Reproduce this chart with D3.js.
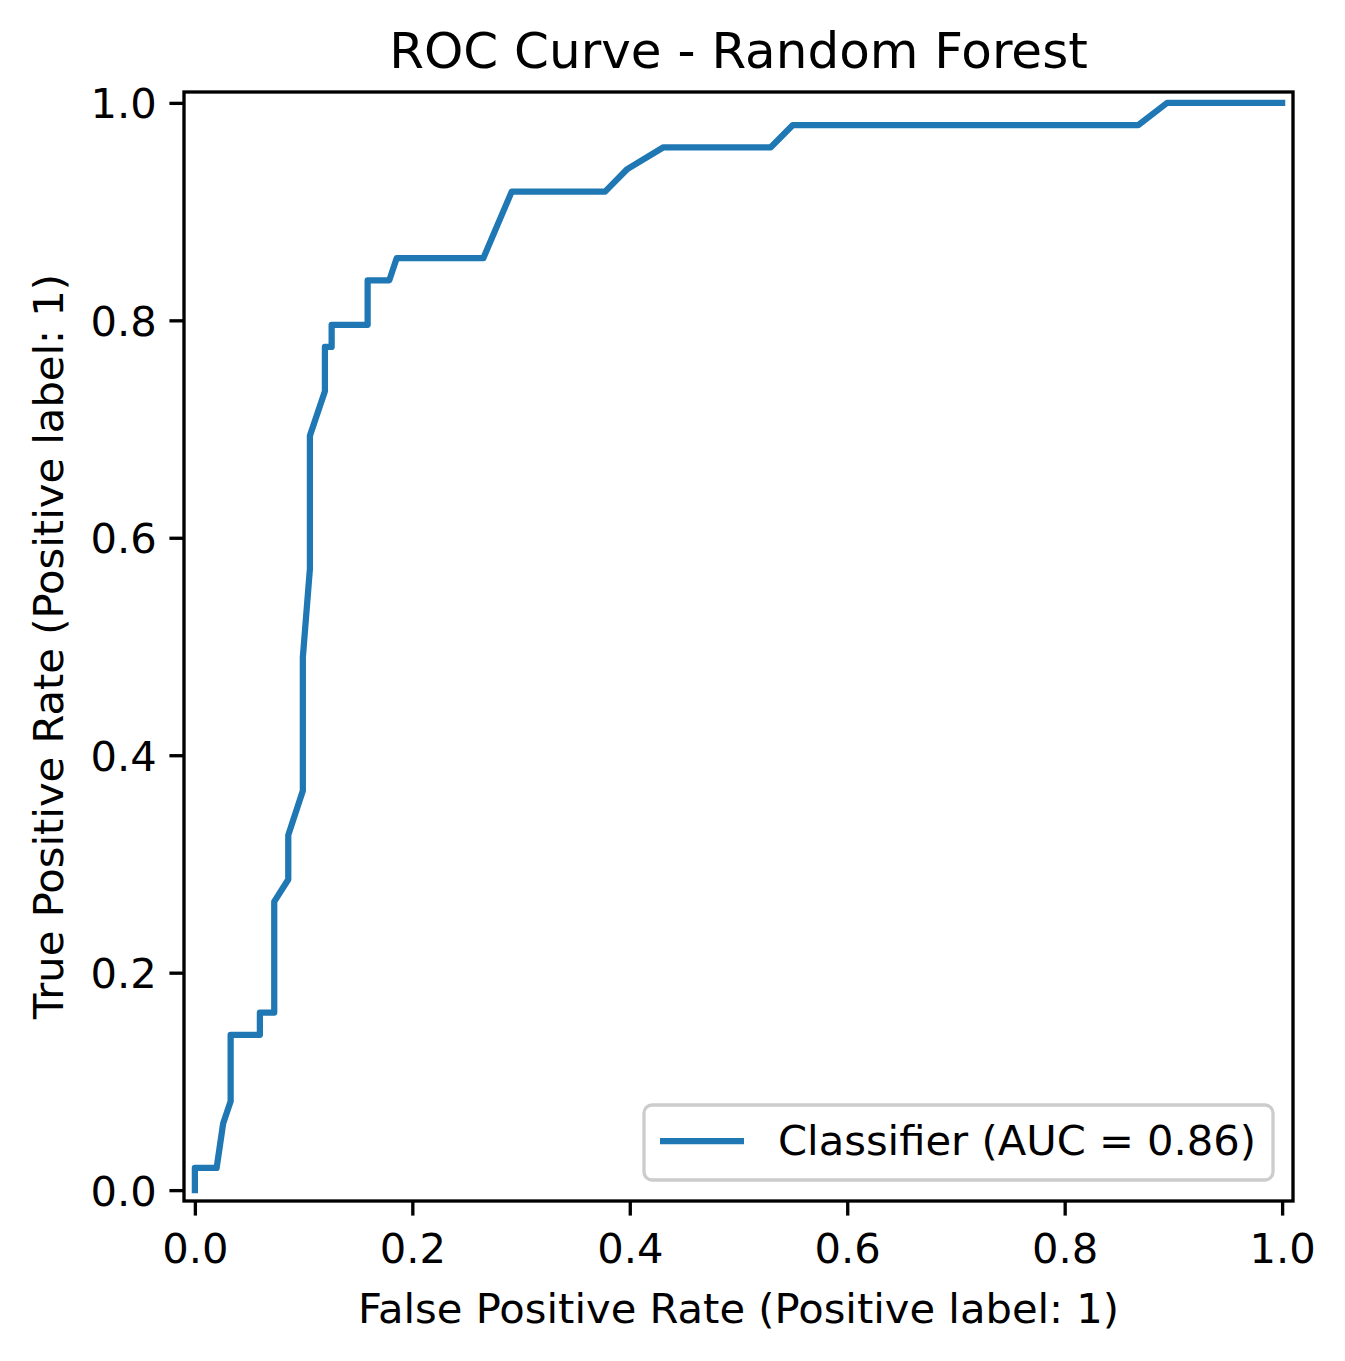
<!DOCTYPE html>
<html>
<head>
    <meta charset="utf-8">
    <title>ROC Curve - Random Forest</title>
    <script src="https://cdn.jsdelivr.net/npm/d3@7/dist/d3.min.js"></script>
    <style type="text/css">
        body {
            margin: 0;
            background: #ffffff;
        }

        svg text {
            font-family: "DejaVu Sans", sans-serif;
            fill: #000000;
        }

        .axis line {
            stroke: #000000;
            stroke-width: 3.33px;
        }

        .axis text {
            font-size: 41.67px;
        }
    </style>
</head>
<body>
    <div id="chart"></div>

    <script type="text/javascript">
        // values
        var fpr = [0, 0, 0.020, 0.026, 0.0329, 0.0329, 0.0598, 0.0598, 0.0730, 0.0730,
            0.0859, 0.0859, 0.0993, 0.0993, 0.1058, 0.1058, 0.1196, 0.1196, 0.1258, 0.1258,
            0.1589, 0.1589, 0.1788, 0.1856, 0.2653, 0.2914, 0.3773, 0.3973, 0.4310, 0.5297,
            0.5500, 0.8678, 0.8942, 1.0];
        var tpr = [0, 1, 1, 3, 4, 7, 7, 8, 8, 13,
            14, 16, 18, 24, 28, 34, 36, 38, 38, 39,
            39, 41, 41, 42, 42, 45, 45, 46, 47, 47,
            48, 48, 49, 49].map(function (d) { return d / 49; });
        var tickValues = [0, 0.2, 0.4, 0.6, 0.8, 1.0];
        var titleText = "ROC Curve - Random Forest";
        var xLabel = "False Positive Rate (Positive label: 1)";
        var yLabel = "True Positive Rate (Positive label: 1)";
        var legendLabel = "Classifier (AUC = 0.86)";

        var w = 1345;
        var h = 1361;
        var margin = { left: 184, top: 92, right: 52, bottom: 160 };
        var plotW = w - margin.left - margin.right;   // 1109
        var plotH = h - margin.top - margin.bottom;   // 1109
        var pt = 300 / 72;
        var color = "#1f77b4";

        var dataset = fpr.map(function (d, i) {
            return [d, tpr[i]];
        });

        var xScale = d3.scaleLinear()
            .domain([-0.01, 1.01])
            .range([0, plotW]);
        var yScale = d3.scaleLinear()
            .domain([-0.01, 1.01])
            .range([plotH, 0]);

        var svg = d3.select("#chart")
            .append("svg")
            .attr("width", w)
            .attr("height", h);

        var g = svg.append("g")
            .attr("transform", "translate(" + margin.left + "," + margin.top + ")");

        var line = d3.line()
            .x(function (d) { return xScale(d[0]); })
            .y(function (d) { return yScale(d[1]); });

        g.append("path")
            .datum(dataset)
            .attr("d", line)
            .attr("fill", "none")
            .attr("stroke", color)
            .attr("stroke-width", 1.5 * pt)
            .attr("stroke-linecap", "square")
            .attr("stroke-linejoin", "round");

        var xAxis = d3.axisBottom(xScale)
            .tickValues(tickValues)
            .tickFormat(d3.format(".1f"))
            .tickSize(3.5 * pt)
            .tickSizeOuter(0)
            .tickPadding(3.5 * pt);
        var yAxis = d3.axisLeft(yScale)
            .tickValues(tickValues)
            .tickFormat(d3.format(".1f"))
            .tickSize(3.5 * pt)
            .tickSizeOuter(0)
            .tickPadding(3.5 * pt);

        var gx = g.append("g")
            .attr("class", "x axis")
            .attr("transform", "translate(0," + plotH + ")")
            .call(xAxis);
        gx.select(".domain").remove();
        gx.selectAll("text")
            .attr("dy", "0.79em")
            .attr("font-family", "DejaVu Sans");

        var gy = g.append("g")
            .attr("class", "y axis")
            .call(yAxis);
        gy.select(".domain").remove();
        gy.selectAll("text")
            .attr("dy", "0.36em")
            .attr("x", -3.5 * pt * 2 + 2)
            .attr("font-family", "DejaVu Sans");

        // frame (spines)
        g.append("rect")
            .attr("x", 0)
            .attr("y", 0)
            .attr("width", plotW)
            .attr("height", plotH)
            .attr("fill", "none")
            .attr("stroke", "#000000")
            .attr("stroke-width", 0.8 * pt);

        // title
        svg.append("text")
            .attr("x", margin.left + plotW / 2)
            .attr("y", 68)
            .attr("text-anchor", "middle")
            .attr("font-size", 12 * pt + "px")
            .text(titleText);

        // axis labels
        svg.append("text")
            .attr("x", margin.left + plotW / 2)
            .attr("y", 1323)
            .attr("text-anchor", "middle")
            .attr("font-size", 10 * pt + "px")
            .text(xLabel);

        svg.append("text")
            .attr("transform", "translate(63," + (margin.top + plotH / 2) + ") rotate(-90)")
            .attr("text-anchor", "middle")
            .attr("font-size", 10 * pt + "px")
            .text(yLabel);

        // legend
        var legend = svg.append("g")
            .attr("class", "legend");
        legend.append("rect")
            .attr("x", 644)
            .attr("y", 1105)
            .attr("width", 629)
            .attr("height", 75)
            .attr("rx", 8)
            .attr("fill", "#ffffff")
            .attr("fill-opacity", 0.8)
            .attr("stroke", "#cccccc")
            .attr("stroke-width", 3.3);
        legend.append("line")
            .attr("x1", 660)
            .attr("x2", 744)
            .attr("y1", 1141)
            .attr("y2", 1141)
            .attr("stroke", color)
            .attr("stroke-width", 1.5 * pt);
        legend.append("text")
            .attr("x", 778)
            .attr("y", 1155)
            .attr("font-size", 10 * pt + "px")
            .text(legendLabel);
    </script>
</body>
</html>
